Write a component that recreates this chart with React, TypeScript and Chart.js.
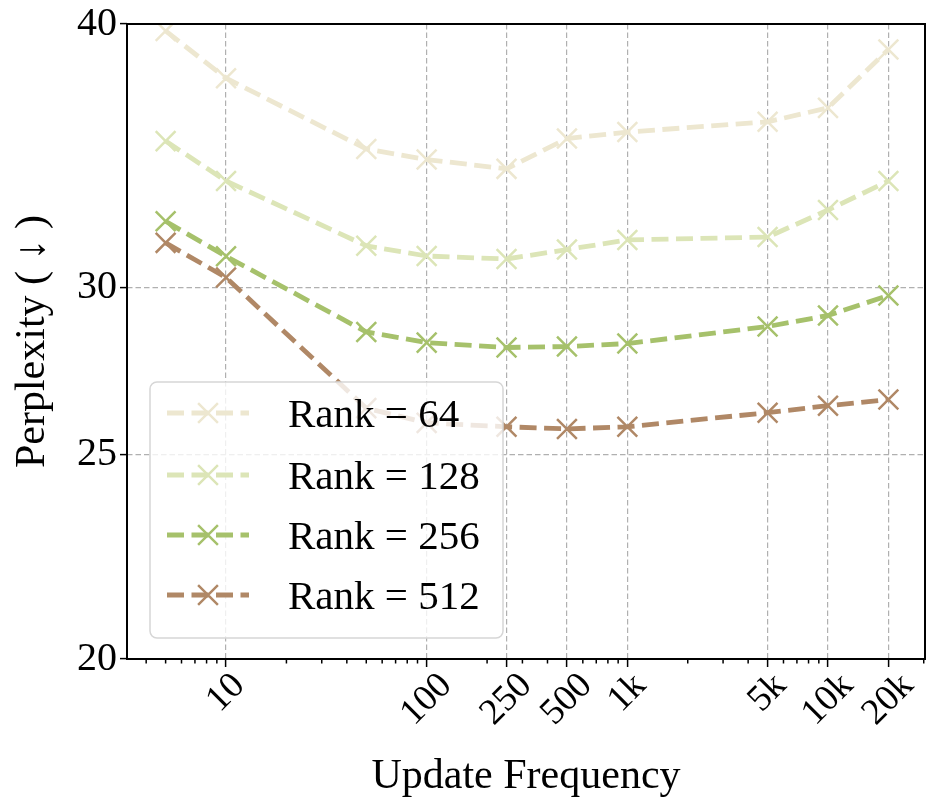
import React, { useEffect, useRef } from "react";
import { Chart, registerables } from "chart.js";
Chart.register(...registerables);

const FONT = "'Liberation Serif', 'Times New Roman', serif";

const frequencies = [5, 10, 50, 100, 250, 500, 1000, 5000, 10000, 20000];
const rank64 = [39.7, 37.7, 34.9, 34.5, 34.15, 35.3, 35.55, 35.95, 36.5, 38.9];
const rank128 = [35.2, 33.7, 31.4, 31.05, 30.95, 31.27, 31.6, 31.7, 32.65, 33.7];
const rank256 = [32.25, 31.04, 28.58, 28.25, 28.1, 28.13, 28.22, 28.75, 29.1, 29.74];
const rank512 = [31.5, 30.33, 26.3, 25.88, 25.77, 25.71, 25.77, 26.17, 26.37, 26.55];
const seriesLabels = ["Rank = 64", "Rank = 128", "Rank = 256", "Rank = 512"];
const seriesColors = ["#ede7d0", "#dce5b7", "#a6c16b", "#b08866"];

const xMajorTicks = [10, 100, 250, 500, 1000, 5000, 10000, 20000];
const xMajorLabels = ["10", "100", "250", "500", "1k", "5k", "10k", "20k"];
const xMinorTicks = [4, 5, 6, 7, 8, 9, 20, 30, 40, 50, 60, 70, 80, 90, 200, 300, 400, 600, 700, 800, 900, 2000, 3000, 4000, 6000, 7000, 8000, 9000, 30000];
const yTicks = [20, 25, 30, 40];
const xAxisMin = 3.21;
const xAxisMax = 30440;
const yAxisMin = 20;
const yAxisMax = 40;

const GRID = "#b0b0b0";
const CLEAR = "rgba(0,0,0,0)";

function drawCross(ctx: CanvasRenderingContext2D, x: number, y: number, r: number) {
  const d = r * Math.SQRT1_2;
  ctx.beginPath();
  ctx.moveTo(x - d, y - d);
  ctx.lineTo(x + d, y + d);
  ctx.moveTo(x - d, y + d);
  ctx.lineTo(x + d, y - d);
  ctx.stroke();
}

const extrasPlugin = {
  id: "extras",
  afterDraw(chart: any) {
    const { ctx, chartArea: ca, scales } = chart;
    const xs = scales.x;
    ctx.save();
    // minor x ticks
    ctx.strokeStyle = "#000";
    ctx.lineWidth = 1.5;
    ctx.setLineDash([]);
    xMinorTicks.forEach((v) => {
      const px = xs.getPixelForValue(v);
      ctx.beginPath();
      ctx.moveTo(px, ca.bottom);
      ctx.lineTo(px, ca.bottom + 4.5);
      ctx.stroke();
    });
    // frame
    ctx.lineWidth = 2;
    ctx.strokeRect(ca.left, ca.top, ca.right - ca.left, ca.bottom - ca.top);

    // x tick labels, rotated 45deg and centred under the tick
    const fs = 37;
    ctx.font = `${fs}px ${FONT}`;
    ctx.fillStyle = "#000";
    ctx.textAlign = "center";
    ctx.textBaseline = "middle";
    xMajorTicks.forEach((v, i) => {
      const label = xMajorLabels[i];
      const px = xs.getPixelForValue(v);
      const L = ctx.measureText(label).width;
      const H = fs * 1.15;
      const bb = (L + H) * Math.SQRT1_2;
      const cy = ca.bottom + 6 + bb / 2;
      ctx.save();
      ctx.translate(px, cy);
      ctx.rotate(-Math.PI / 4);
      ctx.fillText(label, 0, 0);
      ctx.restore();
    });

    // legend
    const lx = ca.left + 23;
    const lw = 353;
    const lh = 256;
    const ly = ca.bottom - 21 - lh;
    const r = 7;
    ctx.beginPath();
    ctx.moveTo(lx + r, ly);
    ctx.lineTo(lx + lw - r, ly);
    ctx.arcTo(lx + lw, ly, lx + lw, ly + r, r);
    ctx.lineTo(lx + lw, ly + lh - r);
    ctx.arcTo(lx + lw, ly + lh, lx + lw - r, ly + lh, r);
    ctx.lineTo(lx + r, ly + lh);
    ctx.arcTo(lx, ly + lh, lx, ly + lh - r, r);
    ctx.lineTo(lx, ly + r);
    ctx.arcTo(lx, ly, lx + r, ly, r);
    ctx.closePath();
    ctx.fillStyle = "rgba(255,255,255,0.8)";
    ctx.fill();
    ctx.strokeStyle = "#d6d6d6";
    ctx.lineWidth = 1.5;
    ctx.stroke();

    const rowY = [31, 93, 153, 213];
    chart.data.datasets.forEach((ds: any, i: number) => {
      const y = ly + rowY[i];
      const x0 = lx + 17;
      const x1 = lx + 99;
      ctx.strokeStyle = ds.borderColor;
      ctx.lineWidth = ds.borderWidth;
      ctx.setLineDash(ds.borderDash);
      ctx.lineCap = "butt";
      ctx.beginPath();
      ctx.moveTo(x0, y);
      ctx.lineTo(x1, y);
      ctx.stroke();
      ctx.setLineDash([]);
      ctx.lineWidth = ds.pointBorderWidth;
      drawCross(ctx, (x0 + x1) / 2, y, ds.pointRadius);
      ctx.fillStyle = "#000";
      ctx.font = `41px ${FONT}`;
      ctx.textAlign = "left";
      ctx.textBaseline = "middle";
      ctx.fillText(ds.label, lx + 138, y + 3);
    });
    ctx.restore();
  },
};

export default function App() {
  const ref = useRef<HTMLCanvasElement>(null);
  useEffect(() => {
    document.body.style.margin = "0";
    document.body.style.overflow = "hidden";
    document.documentElement.style.overflow = "hidden";
    const canvas = ref.current!;
    const series = [rank64, rank128, rank256, rank512];
    const majorSet = new Set(xMajorTicks);
    const chart = new Chart(canvas, {
      type: "line",
      data: {
        datasets: series.map((vals, i) => ({
          label: seriesLabels[i],
          data: frequencies.map((f, j) => ({ x: f, y: vals[j] })),
          borderColor: seriesColors[i],
          backgroundColor: seriesColors[i],
          borderWidth: 4.8,
          borderDash: [17, 7.5],
          pointStyle: "crossRot",
          pointRadius: 14,
          pointHoverRadius: 14,
          pointBorderWidth: 2.5,
          pointBorderColor: seriesColors[i],
          pointBackgroundColor: seriesColors[i],
          tension: 0,
          fill: false,
          order: series.length - 1 - i,
        })),
      },
      options: {
        animation: false,
        responsive: false,
        maintainAspectRatio: false,
        devicePixelRatio: 1,
        layout: { autoPadding: false, padding: { top: 24, right: 1, left: 0, bottom: 0 } },
        plugins: { legend: { display: false }, tooltip: { enabled: false } },
        events: [],
        scales: {
          x: {
            type: "logarithmic",
            min: xAxisMin,
            max: xAxisMax,
            bounds: "data",
            afterBuildTicks: (s: any) => {
              s.ticks = [...xMajorTicks, ...xMinorTicks].sort((a, b) => a - b).map((v) => ({ value: v }));
            },
            afterFit: (s: any) => {
              s.height = 145;
              s.paddingLeft = 0;
              s.paddingRight = 0;
            },
            ticks: { display: false, autoSkip: false },
            grid: {
              color: (c: any) => (c.tick && majorSet.has(c.tick.value) ? GRID : CLEAR),
              lineWidth: 1.2,
              tickLength: 8,
              tickWidth: 1.5,
              tickColor: (c: any) => (c.tick && majorSet.has(c.tick.value) ? "#000" : CLEAR),
            },
            border: { display: false, dash: [5.5, 3] },
            title: {
              display: true,
              text: "Update Frequency",
              color: "#000",
              font: { family: FONT, size: 42 },
              padding: { top: 0, bottom: 2 },
            },
          },
          y: {
            type: "logarithmic",
            min: yAxisMin,
            max: yAxisMax,
            bounds: "data",
            afterBuildTicks: (s: any) => {
              s.ticks = yTicks.map((v) => ({ value: v }));
            },
            afterFit: (s: any) => {
              s.width = 127;
              s.paddingTop = 0;
              s.paddingBottom = 0;
            },
            ticks: {
              autoSkip: false,
              callback: (v: any) => String(v),
              color: "#000",
              font: { family: FONT, size: 40 },
              padding: 3,
            },
            grid: {
              color: GRID,
              lineWidth: 1.2,
              tickLength: 7,
              tickWidth: 1.5,
              tickColor: "#000",
            },
            border: { display: false, dash: [5.5, 3] },
            title: {
              display: true,
              text: "Perplexity ( \u2193 )",
              color: "#000",
              font: { family: FONT, size: 42 },
              padding: { top: 8, bottom: 0 },
            },
          },
        },
      },
      plugins: [extrasPlugin],
    } as any);
    return () => chart.destroy();
  }, []);
  return (
    <div style={{ width: 926, height: 804, overflow: "hidden" }}>
      <canvas ref={ref} width={926} height={804} style={{ display: "block", width: 926, height: 804 }} />
    </div>
  );
}
